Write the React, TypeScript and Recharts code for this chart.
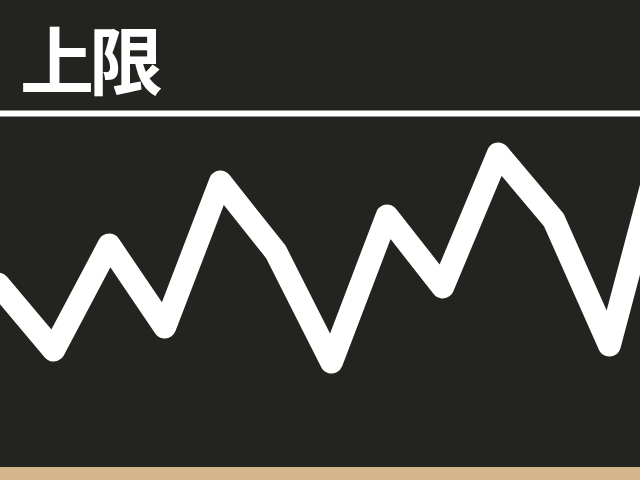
import { LineChart, Line, XAxis, YAxis, ReferenceLine } from "recharts";

// point index along the board, and line height measured up from the bottom edge (px)
const steps = [0, 1, 2, 3, 4, 5, 6, 7, 8, 9, 10, 11, 12];
const level = [196, 130, 235, 153, 298, 228, 118, 264, 193, 326, 260, 135, 345];
const limit = 366.5;
const title = "上限";

const data = steps.map((s, i) => ({ step: s, level: level[i] }));

export default function App() {
  return (
    <div
      style={{
        position: "fixed",
        top: 0,
        left: 0,
        width: 640,
        height: 480,
        overflow: "hidden",
        background: "#d4b68a",
      }}
    >
      <div style={{ position: "absolute", top: 0, left: 0, width: 640, height: 467, background: "#23231f" }} />
      <div style={{ position: "absolute", top: 0, left: -2 }}>
        <LineChart width={667} height={480} data={data} margin={{ top: 0, right: 0, bottom: 0, left: 0 }}>
          <XAxis dataKey="step" type="number" domain={[0, 12]} hide />
          <YAxis type="number" domain={[0, 480]} hide />
          <ReferenceLine y={limit} stroke="#ffffff" strokeWidth={6} ifOverflow="visible" />
          <Line
            type="linear"
            dataKey="level"
            stroke="#ffffff"
            strokeWidth={23}
            strokeLinejoin="round"
            strokeLinecap="round"
            dot={false}
            activeDot={false}
            isAnimationActive={false}
          />
        </LineChart>
      </div>
      <div
        style={{
          position: "absolute",
          top: 16,
          left: 20,
          color: "#ffffff",
          fontFamily: '"Noto Sans CJK JP", sans-serif',
          fontWeight: 700,
          fontSize: 74,
          letterSpacing: -5,
          lineHeight: 1.1,
          whiteSpace: "nowrap",
        }}
      >
        {title}
      </div>
    </div>
  );
}
